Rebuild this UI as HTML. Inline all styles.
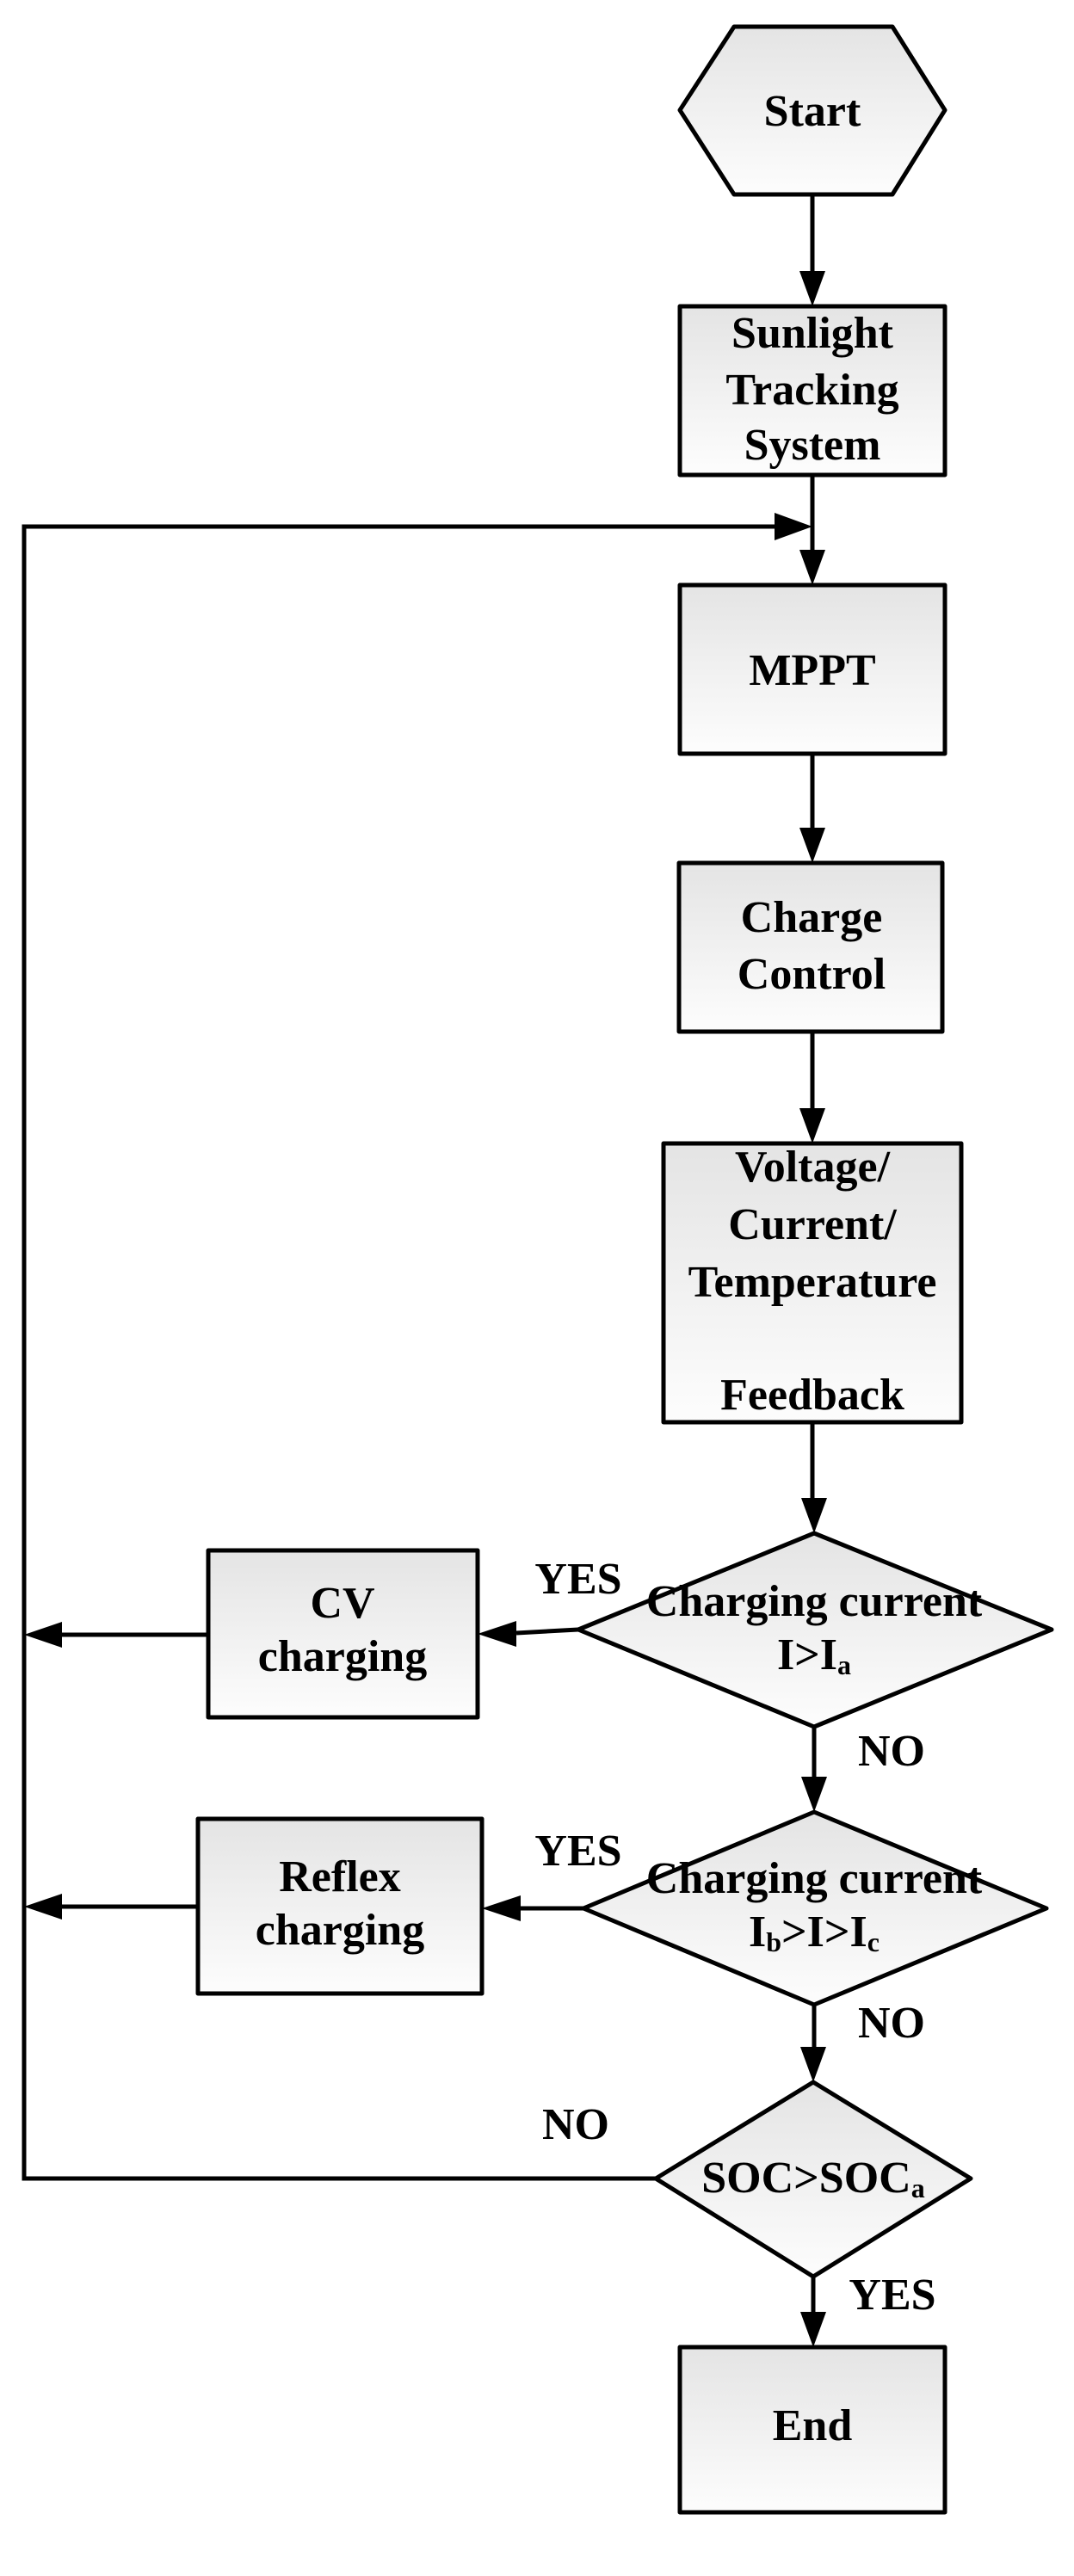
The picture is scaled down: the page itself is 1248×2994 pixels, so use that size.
<!DOCTYPE html>
<html><head><meta charset="utf-8"><style>
html,body{margin:0;padding:0;background:#fff;}
svg{display:block;}
text{font-family:"Liberation Serif",serif;font-weight:bold;font-size:52px;fill:#000;}
</style></head><body>
<svg width="1248" height="2994" viewBox="0 0 1248 2994" xmlns="http://www.w3.org/2000/svg">
<defs>
<linearGradient id="g" x1="0" y1="0" x2="0" y2="1"><stop offset="0" stop-color="#e4e4e4"/><stop offset="1" stop-color="#fdfdfd"/></linearGradient>
</defs>
<g stroke="#000" stroke-width="5" fill="url(#g)" stroke-linejoin="round">
<polygon points="853,31 1037,31 1098,128 1037,226 853,226 790,128"/>
<rect x="790" y="356" width="308" height="196"/>
<rect x="790" y="680" width="308" height="196"/>
<rect x="789" y="1003" width="306" height="196"/>
<rect x="771" y="1329" width="346" height="324"/>
<polygon points="946,1782 1222,1894 946,2007 672,1894"/>
<rect x="242" y="1802" width="313" height="194"/>
<polygon points="946,2106 1216,2218 946,2330 678,2218"/>
<rect x="230" y="2114" width="330" height="203"/>
<polygon points="945,2420 1128,2532 945,2646 762,2532"/>
<rect x="790" y="2728" width="308" height="192"/>
</g>
<g stroke="#000" stroke-width="5" fill="none">
<line x1="944" y1="226" x2="944" y2="320"/>
<line x1="944" y1="552" x2="944" y2="645"/>
<polyline points="672,1894 600,1898"/>
<polyline points="242,1900 60,1900"/>
<polyline points="678,2218 600,2218"/>
<polyline points="230,2216 60,2216"/>
<polyline points="762,2532 28,2532 28,612 905,612"/>
<line x1="944" y1="876" x2="944" y2="965"/>
<line x1="944" y1="1199" x2="944" y2="1290"/>
<line x1="944" y1="1653" x2="944" y2="1745"/>
<line x1="946" y1="2007" x2="946" y2="2070"/>
<line x1="946" y1="2330" x2="946" y2="2385"/>
<line x1="945" y1="2646" x2="945" y2="2692"/>
</g>
<g fill="#000">
<polygon points="929,315 959,315 944,356"/>
<polygon points="929,639 959,639 944,680"/>
<polygon points="900,596 900,628 944,612"/>
<polygon points="929,962 959,962 944,1003"/>
<polygon points="929,1288 959,1288 944,1329"/>
<polygon points="931,1741 961,1741 946,1782"/>
<polygon points="600,1884 600,1914 555,1899"/>
<polygon points="72,1885 72,1915 28,1900"/>
<polygon points="931,2065 961,2065 946,2106"/>
<polygon points="605,2203 605,2233 560,2218"/>
<polygon points="72,2201 72,2231 28,2216"/>
<polygon points="930,2379 960,2379 945,2420"/>
<polygon points="930,2687 960,2687 945,2728"/>
</g>
<g text-anchor="middle">
<text x="944" y="146">Start</text>
<text x="944" y="404">Sunlight</text>
<text x="944" y="470">Tracking</text>
<text x="944" y="534">System</text>
<text x="944" y="796">MPPT</text>
<text x="943" y="1083">Charge</text>
<text x="943" y="1149">Control</text>
<text x="944" y="1373">Voltage/</text>
<text x="944" y="1440">Current/</text>
<text x="944" y="1507">Temperature</text>
<text x="944" y="1638">Feedback</text>
<text x="398" y="1880">CV</text>
<text x="398" y="1942">charging</text>
<text x="946" y="1878">Charging current</text>
<text x="946" y="1940">I&gt;I<tspan font-size="32" dy="6">a</tspan></text>
<text x="395" y="2198">Reflex</text>
<text x="395" y="2260">charging</text>
<text x="946" y="2200">Charging current</text>
<text x="946" y="2262">I<tspan font-size="32" dy="6">b</tspan><tspan dy="-6">&gt;I&gt;I</tspan><tspan font-size="32" dy="6">c</tspan></text>
<text x="945" y="2548">SOC&gt;SOC<tspan font-size="32" dy="6">a</tspan></text>
<text x="944" y="2836">End</text>
<text x="672" y="1852">YES</text>
<text x="1036" y="2052">NO</text>
<text x="672" y="2168">YES</text>
<text x="1036" y="2368">NO</text>
<text x="669" y="2486">NO</text>
<text x="1037" y="2684">YES</text>
</g>
</svg>
</body></html>
